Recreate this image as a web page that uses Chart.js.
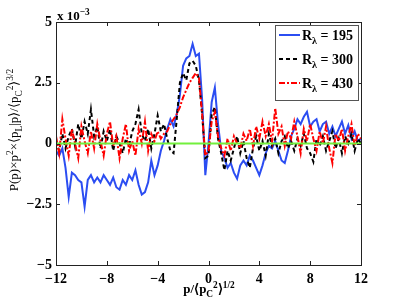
<!DOCTYPE html>
<html>
<head>
<meta charset="utf-8">
<script src="https://cdn.jsdelivr.net/npm/chart.js@4.4.1/dist/chart.umd.min.js"></script>
<style>
  html, body { margin: 0; padding: 0; background: #fff; }
  #wrap { width: 399px; height: 300px; position: relative; }
</style>
</head>
<body>
<div id="wrap"><canvas id="c"></canvas></div>
<script>
// sampling grid p/<pC^2>^1/2
const xs = [
  -12, -11.75, -11.5, -11.25, -11, -10.75, -10.5, -10.25, -10, -9.75, -9.5, -9.25,
  -9, -8.75, -8.5, -8.25, -8, -7.75, -7.5, -7.25, -7, -6.75, -6.5, -6.25,
  -6, -5.75, -5.5, -5.25, -5, -4.75, -4.5, -4.25, -4, -3.75, -3.5, -3.25,
  -3, -2.75, -2.5, -2.25, -2, -1.75, -1.5, -1.25, -1, -0.75, -0.5, -0.25,
  0, 0.25, 0.5, 0.75, 1, 1.25, 1.5, 1.75, 2, 2.25, 2.5, 2.75,
  3, 3.25, 3.5, 3.75, 4, 4.25, 4.5, 4.75, 5, 5.25, 5.5, 5.75,
  6, 6.25, 6.5, 6.75, 7, 7.25, 7.5, 7.75, 8, 8.25, 8.5, 8.75,
  9, 9.25, 9.5, 9.75, 10, 10.25, 10.5, 10.75, 11, 11.25, 11.5, 11.75,
  12
];

// values in units of 1e-3
const r195 = [
  -0.3, -0.5, -0.2, -1.0, -2.2, -1.2, -1.3, -1.5, -1.6, -2.6, -1.5, -1.3,
  -1.6, -1.4, -1.6, -1.3, -1.5, -1.7, -1.4, -1.8, -1.9, -1.5, -1.7, -1.3,
  -1.5, -1.1, -1.7, -2.1, -2.0, -1.6, -0.7, -1.3, -0.9, -0.3, 0.1, 0.6,
  1.0, 0.7, 1.2, 2.0, 3.2, 3.5, 3.6, 4.1, 3.6, 3.7, 1.8, -1.3,
  0.0, 1.7, 2.3, 0.8, -0.3, -0.6, -1.0, -0.8, -1.2, -1.45, -0.9, -0.7,
  -0.9, -0.5, -0.7, -1.0, -1.3, -0.9, -0.4, -0.1, -0.2, 0.1, -0.3, -0.7,
  -0.8, -0.3, 0.3, 0.6, 1.0, 0.8, 1.1, 1.3, 0.7, 0.9, 1.0, 0.5,
  0.8, 0.9, 0.4, 0.7, 0.3, 0.6, 0.9, 0.4, 0.75, 0.2, 0.5, 0.1,
  0.2
];

const r300 = [
  0.1, -0.3, 0.4, -0.2, 0.3, 0.6, -0.1, 0.8, 0.2, 0.9, 0.4, 1.4,
  0.3, 0.7, -0.2, 0.5, 0.1, 0.6, -0.3, 0.3, 0.0, -0.4, 0.2, -0.1,
  0.5, 0.8, 1.4, 0.4, 0.1, 0.6, -0.2, 0.4, 1.15, 0.5, 0.8, 0.2,
  -0.3, -0.4, 1.0, 2.5, 2.9, 2.6, 3.3, 3.4, 3.2, 2.6, 1.2, -0.6,
  -0.5, 1.2, 1.5, 0.2, -0.4, -1.1, -0.3, -0.7, -0.2, 0.3, -0.4, 0.1,
  -0.6, -1.0, -0.2, 0.3, -0.3, 0.1, -0.5, 0.4, -0.1, 0.2, -0.4, 0.1,
  0.3, -0.2, 0.1, -0.3, 0.2, -0.1, 0.4, -0.2, -0.4, -0.75, 0.2, -0.1,
  0.3, -0.3, 0.1, 0.5, -0.2, 0.2, -0.4, 0.3, 0.0, 0.4, -0.3, 0.2,
  0.0
];

const r430 = [
  0.3, -0.4, 1.0, 0.2, -0.5, 0.6, 0.0, -0.6, 0.7, 0.1, -0.4, 0.5,
  -0.2, 0.8, 0.1, -0.5, 0.4, 0.9, -0.1, 0.3, -0.6, 0.2, 0.8, -0.3,
  0.1, -0.5, 0.6, 0.0, 0.9, -0.3, 0.4, 0.1, 0.5, 0.2, 0.4, 0.5,
  0.8, 1.0, 1.2, 1.5, 1.9, 2.2, 2.5, 2.7, 2.9, 2.7, 1.2, -0.5,
  -0.3, 0.9, 1.3, 0.3, -0.2, -0.5, 0.2, -0.3, 0.3, 0.0, -0.2, 0.4,
  0.1, 0.6, -0.1, 0.7, 0.2, 0.9, 0.3, 0.8, 0.1, 1.45, 0.4, 0.7,
  -0.1, 0.5, 0.2, 0.9, 0.3, -0.4, 0.6, 0.1, 0.8, 0.2, -0.3, 0.5,
  0.0, 0.7, -0.2, -0.8, 0.4, 0.1, 0.6, -0.3, 0.3, 0.8, -0.1, 0.4,
  0.2
];

const zeroX = [-12, 12];
const zeroY = [0, 0];

const xTicks = [-12, -8, -4, 0, 4, 8, 12];
const yTicks = [-5, -2.5, 0, 2.5, 5];

const legendNames = ['195', '300', '430'];

const SERIF = "'Liberation Serif', 'Times New Roman', serif";
const pts = (a, b) => a.map((x, i) => ({ x: x, y: b[i] }));
const minus = v => String(v).replace('-', '\u2212');

// draws text runs: [text, 'n' | 'sub' | 'sup']
function drawRuns(ctx, runs, x, y, size, weight) {
  let cx = x;
  runs.forEach(([t, k]) => {
    const s = k === 'n' ? size : size * 0.72;
    const dy = k === 'sub' ? size * 0.3 : k === 'sup' ? -size * 0.42 : 0;
    ctx.font = `${weight} ${s}px ${SERIF}`;
    ctx.fillText(t, cx, y + dy);
    cx += ctx.measureText(t).width;
  });
  return cx - x;
}
function runsWidth(ctx, runs, size, weight) {
  let w = 0;
  runs.forEach(([t, k]) => {
    const s = k === 'n' ? size : size * 0.72;
    ctx.font = `${weight} ${s}px ${SERIF}`;
    w += ctx.measureText(t).width;
  });
  return w;
}

const decorPlugin = {
  id: 'decor',
  afterDatasetsDraw(chart) {
    const { ctx, chartArea: a, scales } = chart;
    ctx.save();
    // frame
    ctx.strokeStyle = '#222';
    ctx.lineWidth = 1;
    ctx.setLineDash([]);
    ctx.strokeRect(Math.round(a.left) + 0.5, Math.round(a.top) + 0.5,
      Math.round(a.right - a.left), Math.round(a.bottom - a.top));
    // inward ticks
    ctx.beginPath();
    xTicks.slice(1, -1).forEach(v => {
      const px = Math.round(scales.x.getPixelForValue(v)) + 0.5;
      ctx.moveTo(px, a.bottom); ctx.lineTo(px, a.bottom - 4);
      ctx.moveTo(px, a.top); ctx.lineTo(px, a.top + 4);
    });
    yTicks.slice(1, -1).forEach(v => {
      const py = Math.round(scales.y.getPixelForValue(v)) + 0.5;
      ctx.moveTo(a.left, py); ctx.lineTo(a.left + 4, py);
      ctx.moveTo(a.right, py); ctx.lineTo(a.right - 4, py);
    });
    ctx.stroke();

    // legend box
    const bx = 275.5, by = 25.5, bw = 83, bh = 75;
    ctx.fillStyle = '#fff';
    ctx.fillRect(bx, by, bw, bh);
    ctx.strokeStyle = '#555';
    ctx.strokeRect(bx, by, bw, bh);
    chart.data.datasets.slice(0, 3).forEach((ds, i) => {
      const ly = 35 + i * 24;
      ctx.strokeStyle = ds.borderColor;
      ctx.lineWidth = 2;
      ctx.setLineDash(ds.borderDash || []);
      ctx.beginPath();
      ctx.moveTo(279, ly); ctx.lineTo(300, ly);
      ctx.stroke();
      ctx.setLineDash([]);
      ctx.fillStyle = '#000';
      ctx.textAlign = 'left';
      ctx.textBaseline = 'alphabetic';
      drawRuns(ctx, [['R', 'n'], ['\u03bb', 'sub'], [' = ' + legendNames[i], 'n']], 302, ly + 5, 14, 'bold');
    });

    // exponent note
    ctx.fillStyle = '#000';
    ctx.textAlign = 'left';
    ctx.textBaseline = 'alphabetic';
    drawRuns(ctx, [['x 10', 'n'], ['\u22123', 'sup']], 57, 20, 13, 'bold');

    // x label
    const xr = [['p/\u27e8p', 'n'], ['C', 'sub'], ['2', 'sup'], ['\u27e9', 'n'], ['1/2', 'sup']];
    const xw = runsWidth(ctx, xr, 13, 'bold');
    drawRuns(ctx, xr, 209 - xw / 2, 293, 13, 'bold');

    // y label
    const yr = [['P(p)\u00d7p', 'n'], ['2', 'sup'], ['\u00d7\u27e8p', 'n'], ['L', 'sub'],
      ['|p\u27e9/\u27e8p', 'n'], ['C', 'sub'], ['2', 'sup'], ['\u27e9', 'n'], ['3/2', 'sup']];
    const yw = runsWidth(ctx, yr, 13, 'normal');
    ctx.translate(18, 130);
    ctx.rotate(-Math.PI / 2);
    drawRuns(ctx, yr, -yw / 2, 0, 13, 'normal');
    ctx.restore();
  }
};

new Chart(document.getElementById('c'), {
  type: 'line',
  data: {
    datasets: [
      { label: 'R\u03bb = 195', data: pts(xs, r195), borderColor: '#2b4df2', borderWidth: 2, order: 3 },
      { label: 'R\u03bb = 300', data: pts(xs, r300), borderColor: '#000000', borderWidth: 2, borderDash: [4, 3], order: 2 },
      { label: 'R\u03bb = 430', data: pts(xs, r430), borderColor: '#ff0000', borderWidth: 2, borderDash: [6, 2, 2, 2], order: 1 },
      { label: 'zero', data: pts(zeroX, zeroY), borderColor: '#72f03c', borderWidth: 2, order: 0 }
    ]
  },
  options: {
    responsive: true,
    maintainAspectRatio: false,
    animation: false,
    devicePixelRatio: 1,
    layout: { padding: { left: 0, right: 38, top: 22, bottom: 0 } },
    elements: { point: { radius: 0 }, line: { tension: 0, fill: false } },
    plugins: { legend: { display: false }, tooltip: { enabled: false } },
    scales: {
      x: {
        type: 'linear', min: -12, max: 12,
        afterBuildTicks: s => { s.ticks = xTicks.map(v => ({ value: v })); },
        afterFit: s => { s.height = 35; },
        grid: { display: false, drawTicks: false },
        border: { display: false },
        ticks: { padding: 6, color: '#000', font: { family: SERIF, size: 14, weight: 'bold' }, callback: v => minus(v), maxRotation: 0 }
      },
      y: {
        min: -5, max: 5,
        afterBuildTicks: s => { s.ticks = yTicks.map(v => ({ value: v })); },
        afterFit: s => { s.width = 56; },
        grid: { display: false, drawTicks: false },
        border: { display: false },
        ticks: { padding: 4, color: '#000', font: { family: SERIF, size: 14, weight: 'bold' }, callback: v => minus(v) }
      }
    }
  },
  plugins: [decorPlugin]
});
</script>
</body>
</html>
